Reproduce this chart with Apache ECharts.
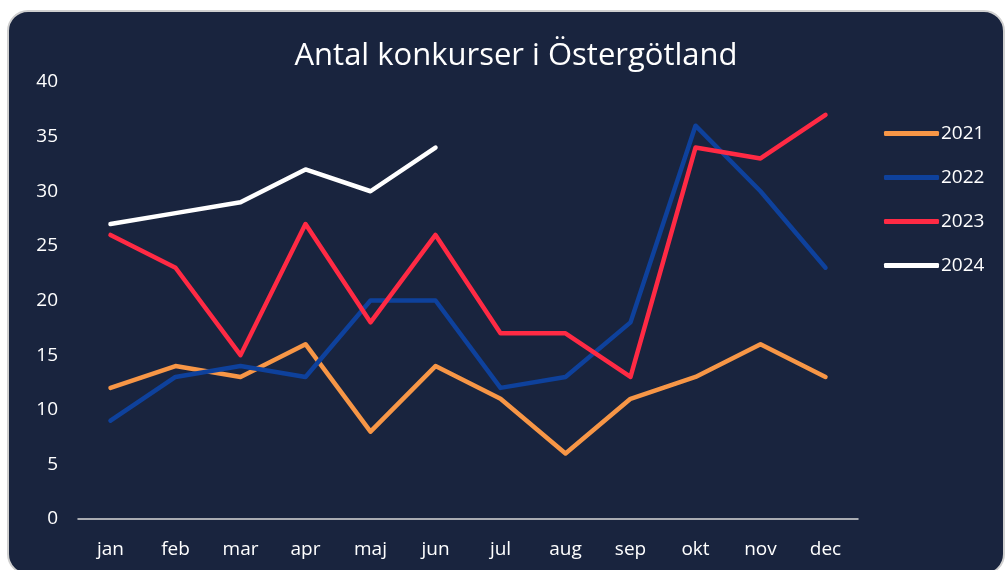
<!DOCTYPE html>
<html>
<head>
<meta charset="utf-8">
<script src="https://cdn.jsdelivr.net/npm/echarts@6/dist/echarts.min.js"></script>
<style>
  html, body { margin: 0; padding: 0; background: #ffffff; }
  #chart { width: 1006px; height: 570px; }
</style>
</head>
<body>
<div id="chart"></div>
<script>
// månader och antal konkurser per år
const months = ['jan', 'feb', 'mar', 'apr', 'maj', 'jun', 'jul', 'aug', 'sep', 'okt', 'nov', 'dec'];
const y2021 = [12, 14, 13, 16, 8, 14, 11, 6, 11, 13, 16, 13];
const y2022 = [9, 13, 14, 13, 20, 20, 12, 13, 18, 36, 30, 23];
const y2023 = [26, 23, 15, 27, 18, 26, 17, 17, 13, 34, 33, 37];
const y2024 = [27, 28, 29, 32, 30, 34];

const font = 'Open Sans';
const chart = echarts.init(document.getElementById('chart'));

function line(name, data, color) {
  return {
    name: name,
    type: 'line',
    data: data,
    showSymbol: false,
    symbol: 'none',
    lineStyle: { color: color, width: 4.5, cap: 'round', join: 'round' },
    itemStyle: { color: color },
    animation: false
  };
}

chart.setOption({
  backgroundColor: 'transparent',
  textStyle: { fontFamily: font },
  graphic: [{
    type: 'rect',
    z: -10,
    shape: { x: 8, y: 11, width: 996, height: 563, r: 20 },
    style: { fill: '#19243e', stroke: '#cfcfcf', lineWidth: 2 }
  }],
  title: {
    text: 'Antal konkurser i Östergötland',
    left: 511,
    textAlign: 'center',
    top: 36,
    textStyle: { color: '#ffffff', fontSize: 31, fontWeight: 'normal', fontFamily: font }
  },
  legend: {
    orient: 'vertical',
    left: 879,
    top: 119,
    itemWidth: 55,
    itemHeight: 5,
    itemGap: 25,
    icon: 'roundRect',
    textStyle: { color: '#ffffff', fontSize: 19, fontFamily: font, padding: [0, 0, 0, -3] },
    data: ['2021', '2022', '2023', '2024']
  },
  grid: { left: 78, right: 148, top: 82, bottom: 51, containLabel: false },
  xAxis: {
    type: 'category',
    data: months,
    boundaryGap: true,
    axisLine: { lineStyle: { color: '#d9d9d9', width: 1.5 } },
    axisTick: { show: false },
    axisLabel: { color: '#ffffff', fontSize: 19, margin: 21, fontFamily: font }
  },
  yAxis: {
    type: 'value',
    min: 0,
    max: 40,
    interval: 5,
    splitLine: { show: false },
    axisLine: { show: false },
    axisTick: { show: false },
    axisLabel: { color: '#ffffff', fontSize: 19, margin: 20, fontFamily: font }
  },
  series: [
    line('2021', y2021, '#f79646'),
    line('2022', y2022, '#0e419c'),
    line('2023', y2023, '#ff2a44'),
    line('2024', y2024, '#ffffff')
  ]
});
</script>
</body>
</html>
